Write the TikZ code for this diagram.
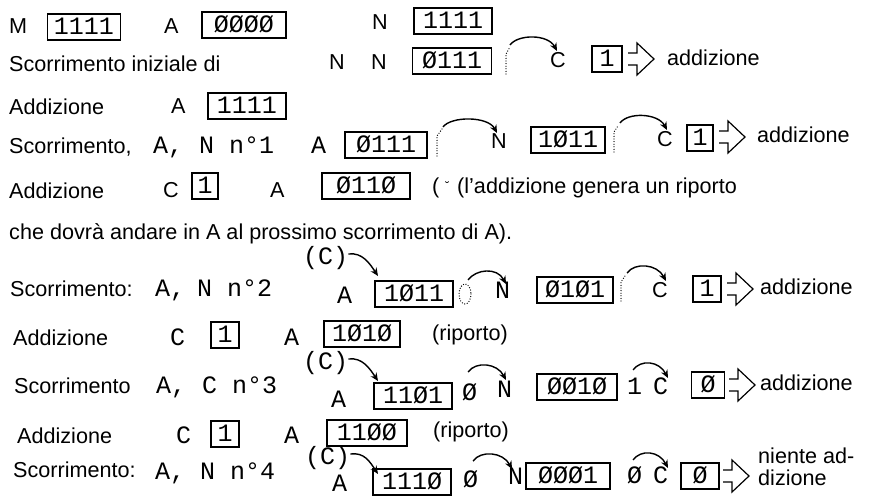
\documentclass[tikz,border=0pt]{standalone}
\usepackage{fontspec}
\setmainfont{Liberation Sans}
\setsansfont{Liberation Sans}
\setmonofont{Liberation Mono}
\usetikzlibrary{arrows.meta}
\tikzset{
  sans/.style={font=\fontsize{21.6}{21.6}\selectfont\sffamily, inner sep=0pt, anchor=west, text height=15pt, text depth=0pt},
  mono/.style={font=\fontsize{25}{25}\selectfont\ttfamily, inner sep=0pt, anchor=west, text height=15pt, text depth=0pt},
  reg/.style={draw, line width=1.2pt, font=\fontsize{25}{25}\selectfont\ttfamily, inner sep=0pt,
              minimum height=26pt, text height=15pt, text depth=0pt, anchor=center},
  arc/.style={line width=1.4pt, -{Stealth[length=8pt,width=7pt]}},
  dotmark/.style={line width=1.3pt, line cap=round, dash pattern=on 0pt off 2.6pt},
  harrow/.pic={\draw[line width=1.2pt, line join=miter] (0,-6) -- (9,-6) -- (9,-16) -- (26,0) -- (9,16) -- (9,6) -- (0,6);}
}
\begin{document}
\begin{tikzpicture}[x=1pt,y=-1pt]
\fill[white] (0,0) rectangle (872,497);
\useasboundingbox (0,0) rectangle (872,497);

% ---------- row 1
\node[sans] (M) at (9,26) {M};
\node[reg, minimum width=73pt] (bM) at (84,27) {1111};
\node[sans] (A1) at (164,26) {A};
\node[reg, minimum width=84pt] (bA1) at (244,25) {ØØØØ};
\node[sans] (N1) at (372,22) {N};
\node[reg, minimum width=78pt] (bN1) at (453,21) {1111};

% ---------- row 2
\node[sans] (t2) at (9,64) {Scorrimento iniziale di};
\node[sans] (N2a) at (329,62) {N};
\node[sans] (N2b) at (371,62) {N};
\node[reg, minimum width=79pt] (bN2) at (452,61) {Ø111};
\draw[dotmark] (506,74) -- (506,54) -- (510,47);
\coordinate (a2s) at (510,45);
\coordinate (a2e) at (557,51);
\draw[arc] (a2s) .. controls +(8,-11) and +(-9,-17) .. (a2e);
\node[sans] (C2) at (550,60) {C};
\node[reg, minimum width=30pt] (bC2) at (607,59) {1};
\pic at (628,59) {harrow};
\node[sans] (ad2) at (667,58) {addizione};

% ---------- row 3
\node[sans] (t3) at (9,107) {Addizione};
\node[sans] (A3) at (171,106) {A};
\node[reg, minimum width=78pt] (bA3) at (247,106) {1111};

% ---------- row 4
\node[sans] (t4) at (9,146) {Scorrimento,};
\node[mono] (m4a) at (153,146) {A,};
\node[mono] (m4b) at (199,146) {N n°1};
\node[mono] (A4) at (311,146) {A};
\node[reg, minimum width=82pt] (bA4) at (386,145) {Ø111};
\draw[dotmark] (437,156) -- (437,136) -- (442,129);
\coordinate (a4s) at (443,127);
\coordinate (a4e) at (497,133);
\draw[arc] (a4s) .. controls +(8,-11) and +(-9,-17) .. (a4e);
\node[sans] (N4) at (491,141) {N};
\node[reg, minimum width=74pt] (bN4) at (568,140) {1Ø11};
\draw[dotmark] (614,152) -- (614,132) -- (618,126);
\coordinate (b4s) at (620,123);
\coordinate (b4e) at (667,130);
\draw[arc] (b4s) .. controls +(8,-11) and +(-9,-17) .. (b4e);
\node[sans] (C4) at (657,139) {C};
\node[reg, minimum width=26pt] (bC4) at (700,138) {1};
\pic at (719,137) {harrow};
\node[sans] (ad4) at (757,135) {addizione};

% ---------- row 5
\node[sans] (t5) at (9,191) {Addizione};
\node[sans] (C5) at (163,190) {C};
\node[reg, minimum width=26pt] (bC5) at (205,186) {1};
\node[sans] (A5) at (270,190) {A};
\node[reg, minimum width=88pt] (bA5) at (366,186) {Ø11Ø};
\node[sans] (p5) at (432,186) {( \raisebox{3pt}{\fontsize{12}{12}\selectfont ˘}};
\node[sans] (r5) at (457,186) {(l’addizione genera un riporto};

% ---------- row 6
\node[sans] (t6) at (9,232) {che dovrà andare in A al prossimo scorrimento di A).};

% ---------- row 7
\node[sans] (t7) at (10,289) {Scorrimento:};
\node[mono] (m7a) at (155,289) {A,};
\node[mono] (m7b) at (197,289) {N n°2};
\node[mono] (c7) at (303,257) {(C)};
\coordinate (c7e) at (378,276);
\draw[arc] (c7.east) ++(0,-3) coordinate (c7s) .. controls +(14,-2) and +(-8,-12) .. (c7e);
\node[mono] (A7) at (337,296) {A};
\node[reg, minimum width=78pt] (bA7) at (414,294) {1Ø11};
\draw[dotmark] (465,294) ellipse [x radius=6, y radius=10];
\coordinate (a7s) at (468,280);
\coordinate (a7e) at (506,284);
\draw[arc] (a7s) .. controls +(8,-11) and +(-9,-17) .. (a7e);
\node[mono] (N7) at (495,291) {N};
\node[reg, minimum width=76pt] (bN7) at (575,290) {Ø1Ø1};
\draw[dotmark] (621,301) -- (621,282) -- (625,276);
\coordinate (b7s) at (627,273);
\coordinate (b7e) at (666,281);
\draw[arc] (b7s) .. controls +(8,-11) and +(-9,-17) .. (b7e);
\node[sans] (C7) at (652,290) {C};
\node[reg, minimum width=28pt] (bC7) at (707,289) {1};
\pic at (727,289) {harrow};
\node[sans] (ad7) at (760,287) {addizione};

% ---------- row 8
\node[sans] (t8) at (13,338) {Addizione};
\node[mono] (C8) at (170,338) {C};
\node[reg, minimum width=28pt] (bC8) at (225,335) {1};
\node[mono] (A8) at (284,338) {A};
\node[reg, minimum width=76pt] (bA8) at (362,334) {1Ø1Ø};
\node[sans] (r8) at (432,333) {(riporto)};

% ---------- row 9
\node[sans] (t9) at (14,386) {Scorrimento};
\node[mono] (m9a) at (156,386) {A,};
\node[mono] (m9b) at (202,386) {C n°3};
\node[mono] (c9) at (303,362) {(C)};
\coordinate (c9e) at (378,381);
\draw[arc] (c9.east) ++(0,-3) coordinate (c9s) .. controls +(14,-2) and +(-8,-12) .. (c9e);
\node[mono] (A9) at (331,400) {A};
\node[reg, minimum width=78pt] (bA9) at (413,396) {11Ø1};
\node[mono] (z9) at (462,393) {Ø};
\coordinate (a9s) at (468,372);
\coordinate (a9e) at (506,380);
\draw[arc] (a9s) .. controls +(8,-11) and +(-9,-17) .. (a9e);
\node[mono] (N9) at (497,390) {N};
\node[reg, minimum width=80pt] (bN9) at (577,387) {ØØ1Ø};
\node[mono] (o9) at (627,387) {1};
\coordinate (b9s) at (633,370);
\coordinate (b9e) at (668,378);
\draw[arc] (b9s) .. controls +(8,-11) and +(-9,-17) .. (b9e);
\node[mono] (C9) at (653,387) {C};
\node[reg, minimum width=33pt] (bC9) at (708,385) {Ø};
\pic at (729,385) {harrow};
\node[sans] (ad9) at (760,383) {addizione};

% ---------- row 10
\node[sans] (t10) at (17,436) {Addizione};
\node[mono] (C10) at (176,436) {C};
\node[reg, minimum width=28pt] (bC10) at (225,434) {1};
\node[mono] (A10) at (284,436) {A};
\node[reg, minimum width=80pt] (bA10) at (367,433) {11ØØ};
\node[sans] (r10) at (433,430) {(riporto)};

% ---------- row 11
\node[sans] (t11) at (13,470) {Scorrimento:};
\node[mono] (m11a) at (155,472) {A,};
\node[mono] (m11b) at (200,472) {N n°4};
\node[mono] (c11) at (305,457) {(C)};
\coordinate (c11e) at (378,474);
\draw[arc] (c11.east) ++(0,-3) coordinate (c11s) .. controls +(14,-2) and +(-8,-12) .. (c11e);
\node[mono] (A11) at (332,484) {A};
\node[reg, minimum width=78pt] (bA11) at (412,482) {111Ø};
\node[mono] (z11a) at (463,480) {Ø};
\coordinate (a11s) at (473,461);
\coordinate (a11e) at (512,469);
\draw[arc] (a11s) .. controls +(8,-11) and +(-9,-17) .. (a11e);
\node[mono] (N11) at (508,477) {N};
\node[reg, minimum width=84pt] (bN11) at (568,476) {ØØØ1};
\node[mono] (z11b) at (627,476) {Ø};
\coordinate (b11s) at (633,460);
\coordinate (b11e) at (668,468);
\draw[arc] (b11s) .. controls +(8,-11) and +(-9,-17) .. (b11e);
\node[mono] (C11) at (653,476) {C};
\node[reg, minimum width=38pt] (bC11) at (700,476) {Ø};
\pic at (723,476) {harrow};
\node[sans] (ad11a) at (758,456) {niente ad-};
\node[sans] (ad11b) at (758,478) {dizione};
\end{tikzpicture}
\end{document}
